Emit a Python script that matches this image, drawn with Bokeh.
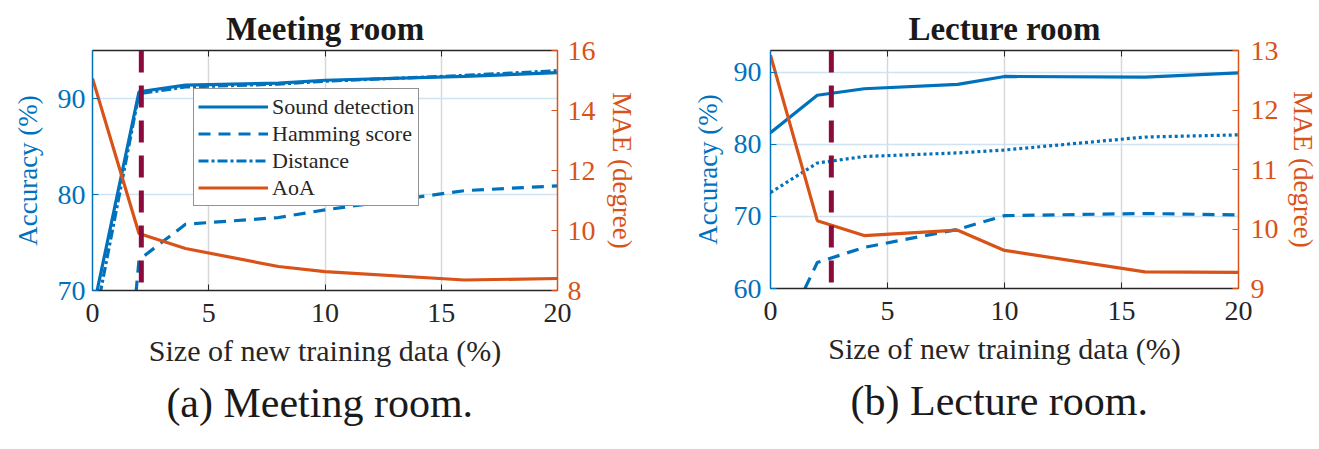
from bokeh.plotting import figure
from bokeh.models import (Range1d, LinearAxis, Title, Legend, LegendItem, Span,
                          FixedTicker)
from bokeh.layouts import row
from bokeh.embed import file_html
from bokeh.resources import INLINE

# ---------------- data ----------------
x_pct = [0, 2, 4, 8, 10, 16, 20]
x_ticks = [0, 5, 10, 15, 20]

meet_sound = [67.7, 90.7, 91.4, 91.6, 91.9, 92.3, 92.7]
meet_hamming = [20.0, 73.2, 76.9, 77.6, 78.4, 80.4, 80.9]
meet_distance = [65.6, 90.5, 91.2, 91.5, 91.8, 92.4, 92.9]
meet_aoa = [15.07, 9.9, 9.4, 8.8, 8.63, 8.35, 8.4]
meet_cut = 2.1
meet_acc_ticks = [70, 80, 90]
meet_mae_ticks = [8, 10, 12, 14, 16]

lect_sound = [81.6, 86.8, 87.7, 88.3, 89.4, 89.3, 89.9]
lect_hamming = [50.0, 63.6, 65.7, 68.2, 70.1, 70.4, 70.2]
lect_distance = [73.3, 77.4, 78.3, 78.8, 79.2, 81.0, 81.3]
lect_aoa = [12.92, 10.14, 9.89, 9.98, 9.64, 9.28, 9.27]
lect_cut = 2.6
lect_acc_ticks = [60, 70, 80, 90]
lect_mae_ticks = [9, 10, 11, 12, 13]

series_names = ["Sound detection", "Hamming score", "Distance", "AoA"]

BLUE = "#0072BD"
ORANGE = "#D95319"
DARK = "#262626"
MAROON = "#8B0B3D"
FONT = "Liberation Serif"


def panel(title, subcap, sound, ham, dist, aoa, cut, acc_rng, acc_ticks,
          mae_rng, mae_ticks, dist_dash, legend, fw, fh, bl, br, bt, bb,
          l_std, r_std, l_lab_std, r_lab_std):
    p = figure(frame_width=fw, frame_height=fh, x_range=Range1d(0, 20),
               y_range=Range1d(*acc_rng), output_backend="svg",
               toolbar_location=None, min_border_left=bl, min_border_right=br,
               min_border_top=bt, min_border_bottom=bb)
    p.outline_line_color = None
    p.background_fill_color = "white"
    p.extra_y_ranges = {"mae": Range1d(*mae_rng)}

    p.title.text = title
    p.title.align = "center"
    p.title.text_font = FONT
    p.title.text_font_size = "33px"
    p.title.text_font_style = "bold"
    p.title.text_color = "#1a1a1a"
    p.title.standoff = 7

    # grids
    p.xgrid.ticker = FixedTicker(ticks=x_ticks)
    p.xgrid.grid_line_color = "#D8D8D8"
    p.xgrid.grid_line_width = 1.5
    p.ygrid.ticker = FixedTicker(ticks=acc_ticks)
    p.ygrid.grid_line_color = "#CFE3F3"
    p.ygrid.grid_line_width = 1.5

    # bottom axis
    xa = p.xaxis[0]
    xa.ticker = FixedTicker(ticks=x_ticks)
    xa.axis_label = "Size of new training data (%)"
    xa.axis_line_color = DARK
    xa.axis_line_width = 1.5
    xa.major_tick_line_color = DARK
    xa.major_tick_in = 6
    xa.major_tick_out = 0
    xa.minor_tick_line_color = None
    xa.major_label_text_font = FONT
    xa.major_label_text_font_size = "28px"
    xa.major_label_text_color = DARK
    xa.major_label_standoff = 13
    xa.axis_label_text_font = FONT
    xa.axis_label_text_font_size = "30px"
    xa.axis_label_text_font_style = "normal"
    xa.axis_label_text_color = DARK
    xa.axis_label_standoff = 9

    # top box axis (ticks only)
    ta = LinearAxis(ticker=FixedTicker(ticks=x_ticks))
    ta.axis_line_color = DARK
    ta.axis_line_width = 1.5
    ta.major_tick_line_color = DARK
    ta.major_tick_in = 6
    ta.major_tick_out = 0
    ta.minor_tick_line_color = None
    ta.major_label_text_font_size = "1px"
    ta.major_label_text_color = None
    ta.major_label_standoff = 0
    p.add_layout(ta, "above")

    # left axis
    ya = p.yaxis[0]
    ya.ticker = FixedTicker(ticks=acc_ticks)
    ya.axis_label = "Accuracy (%)"
    ya.axis_line_color = BLUE
    ya.axis_line_width = 1.5
    ya.major_tick_line_color = BLUE
    ya.major_tick_in = 6
    ya.major_tick_out = 0
    ya.minor_tick_line_color = None
    ya.major_label_text_font = FONT
    ya.major_label_text_font_size = "28px"
    ya.major_label_text_color = BLUE
    ya.major_label_standoff = l_std
    ya.axis_label_text_font = FONT
    ya.axis_label_text_font_size = "27px"
    ya.axis_label_text_font_style = "normal"
    ya.axis_label_text_color = BLUE
    ya.axis_label_standoff = l_lab_std

    # right axis
    ra = LinearAxis(y_range_name="mae", ticker=FixedTicker(ticks=mae_ticks),
                    axis_label="MAE (degree)")
    ra.axis_line_color = ORANGE
    ra.axis_line_width = 1.5
    ra.major_tick_line_color = ORANGE
    ra.major_tick_in = 6
    ra.major_tick_out = 0
    ra.minor_tick_line_color = None
    ra.major_label_text_font = FONT
    ra.major_label_text_font_size = "28px"
    ra.major_label_text_color = ORANGE
    ra.major_label_standoff = r_std
    ra.axis_label_text_font = FONT
    ra.axis_label_text_font_size = "27px"
    ra.axis_label_text_font_style = "normal"
    ra.axis_label_text_color = ORANGE
    ra.axis_label_standoff = r_lab_std
    p.add_layout(ra, "right")

    r1 = p.line(x_pct, sound, line_color=BLUE, line_width=3.2)
    r2 = p.line(x_pct, ham, line_color=BLUE, line_width=3.2, line_dash="12 8")
    r3 = p.line(x_pct, dist, line_color=BLUE, line_width=3.2,
                line_dash=dist_dash)
    r4 = p.line(x_pct, aoa, line_color=ORANGE, line_width=3.2,
                y_range_name="mae")

    p.add_layout(Span(location=cut, dimension="height", line_color=MAROON,
                      line_width=5, line_dash="22 13"))

    if legend:
        lg = Legend(items=[LegendItem(label=n, renderers=[r]) for n, r in
                           zip(series_names, [r1, r2, r3, r4])],
                    location=(101, 84))
        lg.glyph_width = 70
        lg.glyph_height = 27
        lg.label_height = 27
        lg.label_standoff = 4
        lg.padding = 4
        lg.spacing = 0
        lg.margin = 0
        lg.label_text_font = FONT
        lg.label_text_font_size = "22px"
        lg.label_text_color = DARK
        lg.border_line_color = DARK
        lg.border_line_width = 1.5
        lg.background_fill_alpha = 1
        p.add_layout(lg, "center")

    sub = Title(text=subcap, align="center", text_font=FONT,
                text_font_size="42px", text_font_style="normal",
                text_color="#1a1a1a", standoff=17)
    p.add_layout(sub, "below")
    return p


p1 = panel("Meeting room", "(a)  Meeting room.", meet_sound, meet_hamming,
           meet_distance, meet_aoa, meet_cut, (70, 95), meet_acc_ticks,
           (8, 16), meet_mae_ticks, "10 3 3 3", True,
           465, 240, 92, 103, 49, 160, 7, 10, 12, 8)
p2 = panel("Lecture room", "(b)  Lecture room.", lect_sound, lect_hamming,
           lect_distance, lect_aoa, lect_cut, (60, 93), lect_acc_ticks,
           (9, 13), lect_mae_ticks, "3 3", False,
           468, 238, 110, 81, 50, 161, 9, 12, 8, 6)

layout = row(p1, p2)
open("out.html", "w").write(file_html(layout, INLINE))
